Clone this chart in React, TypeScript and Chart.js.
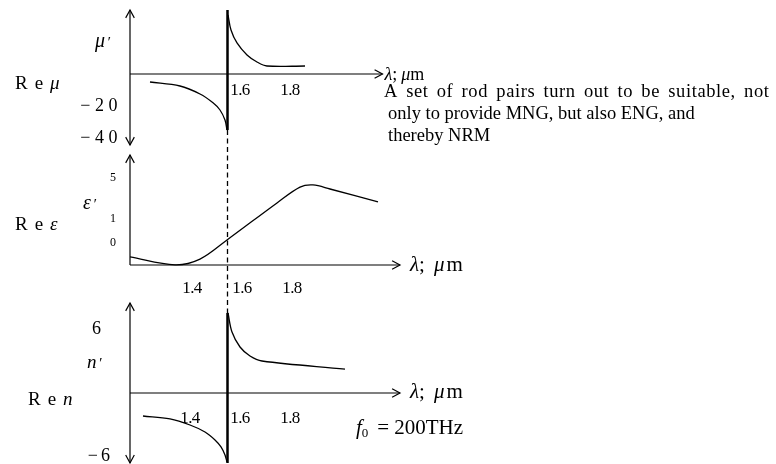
import { useEffect, useRef } from 'react';
import { Chart, registerables } from 'chart.js';

Chart.register(...registerables);

const FONT = "'Liberation Serif', 'Times New Roman', Times, serif";
const INK = '#000';

// Shared wavelength scale (μm) and the resonance wavelength
const lambdaRange = [1.16, 2.36];
const resonanceLambda = 1.55;

// Re μ panel
const muRange = [-47.5, 40];
const muAxisSpan = [-44.4, 40];
const muAxisEnd = 2.17;
const muNegLambda = [1.24, 1.36, 1.44, 1.492, 1.52, 1.54, 1.548];
const muNegValues = [-5, -7.5, -12.5, -18, -22.5, -28.8, -35];
const muPosLambda = [1.552, 1.564, 1.588, 1.628, 1.668, 1.708, 1.86];
const muPosValues = [36.9, 27.5, 19.4, 11.9, 7.5, 5, 5];
const muTicks = [-20, -40];
const muLambdaTicks = [1.6, 1.8];

// Re ε panel
const epsRange = [-1.958, 3.875];
const epsAxisSpan = [-0.917, 3.667];
const epsAxisEnd = 2.24;
const epsLambda = [1.16, 1.34, 1.44, 1.548, 1.748, 1.84, 1.892, 1.96, 2.152];
const epsValues = [-0.58, -0.91, -0.67, 0.125, 1.67, 2.33, 2.42, 2.25, 1.71];
const epsTickLabels = ['5', '1', '0'];
const epsTickPositions = [2.7, 1, 0];
const epsLambdaTicks = [1.4, 1.6, 1.8];

// Re n panel
const nRange = [-6.604, 9.717];
const nAxisSpan = [-6.6, 8.49];
const nAxisEnd = 2.24;
const nNegLambda = [1.212, 1.32, 1.4, 1.46, 1.5, 1.524, 1.54, 1.548];
const nNegValues = [-2.17, -2.45, -3.02, -3.68, -4.43, -5.09, -5.85, -6.51];
const nPosLambda = [1.552, 1.568, 1.6, 1.64, 1.688, 2.02];
const nPosValues = [7.55, 5.75, 4.34, 3.49, 3.02, 2.26];
const nTicks = [6, -6];
const nLambdaTicks = [1.4, 1.6, 1.8];

const noteLines = [
  'A set of rod pairs turn out to be suitable, not',
  'only to provide MNG, but also ENG, and',
  'thereby NRM',
];

const pts = (xs: number[], ys: number[]) => xs.map((x, i) => ({ x, y: ys[i] }));

type Run = { text: string; italic?: boolean; size?: number; dy?: number; spacing?: number };

function fontOf(r: Run, base: number) {
  return `${r.italic ? 'italic ' : ''}${r.size ?? base}px ${FONT}`;
}

function drawRuns(
  ctx: CanvasRenderingContext2D,
  runs: Run[],
  x: number,
  y: number,
  base: number,
  align: 'left' | 'right' | 'center' = 'left',
) {
  const c = ctx as any;
  const widths = runs.map((r) => {
    ctx.font = fontOf(r, base);
    c.letterSpacing = `${r.spacing ?? 0}px`;
    return ctx.measureText(r.text).width;
  });
  const total = widths.reduce((a, b) => a + b, 0);
  let cx = align === 'left' ? x : align === 'right' ? x - total : x - total / 2;
  runs.forEach((r, i) => {
    ctx.font = fontOf(r, base);
    c.letterSpacing = `${r.spacing ?? 0}px`;
    ctx.fillText(r.text, cx, y + (r.dy ?? 0));
    cx += widths[i];
  });
  c.letterSpacing = '0px';
}

function arrowHead(ctx: CanvasRenderingContext2D, tx: number, ty: number, fx: number, fy: number) {
  const a = Math.atan2(ty - fy, tx - fx);
  const len = 9;
  const w = 0.5;
  ctx.beginPath();
  ctx.moveTo(tx - len * Math.cos(a - w), ty - len * Math.sin(a - w));
  ctx.lineTo(tx, ty);
  ctx.lineTo(tx - len * Math.cos(a + w), ty - len * Math.sin(a + w));
  ctx.stroke();
}

function axisLine(
  ctx: CanvasRenderingContext2D,
  x1: number, y1: number, x2: number, y2: number,
  headAtStart: boolean, headAtEnd: boolean,
) {
  ctx.beginPath();
  ctx.moveTo(x1, y1);
  ctx.lineTo(x2, y2);
  ctx.stroke();
  if (headAtStart) arrowHead(ctx, x1, y1, x2, y2);
  if (headAtEnd) arrowHead(ctx, x2, y2, x1, y1);
}

const lambdaLabel = (gap: number, mu: number): Run[] => [
  { text: 'λ', italic: true },
  { text: ';', spacing: gap },
  { text: 'μ', italic: true, spacing: mu },
  { text: 'm' },
];

const reLabel = (sym: string): Run[] => [
  { text: 'Re', spacing: 7 },
  { text: sym, italic: true },
];

const primed = (sym: string): Run[] => [
  { text: sym, italic: true },
  { text: ' ′', italic: true, size: 15, spacing: -2 },
];

const schematicPlugin = {
  id: 'schematic',
  afterDatasetsDraw(chart: any) {
    const ctx: CanvasRenderingContext2D = chart.ctx;
    const x = chart.scales.x;
    const yMu = chart.scales.yMu;
    const yEps = chart.scales.yEps;
    const yN = chart.scales.yN;
    const px = (v: number) => x.getPixelForValue(v);
    const x0 = px(lambdaRange[0]);

    ctx.save();
    ctx.strokeStyle = INK;
    ctx.fillStyle = INK;
    ctx.lineWidth = 1.2;
    ctx.lineCap = 'butt';

    // dashed link through the ε panel at the resonance
    const xr = px(resonanceLambda);
    ctx.save();
    ctx.setLineDash([5, 3.5]);
    ctx.lineWidth = 1.3;
    ctx.beginPath();
    ctx.moveTo(xr, yMu.getPixelForValue(muNegValues[muNegValues.length - 1]));
    ctx.lineTo(xr, yN.getPixelForValue(nPosValues[0]));
    ctx.stroke();
    ctx.restore();

    // axes
    axisLine(ctx, x0, yMu.getPixelForValue(muAxisSpan[1]), x0, yMu.getPixelForValue(muAxisSpan[0]), true, true);
    axisLine(ctx, x0, yMu.getPixelForValue(0), px(muAxisEnd), yMu.getPixelForValue(0), false, true);

    const epsBase = yEps.getPixelForValue(epsAxisSpan[0]);
    axisLine(ctx, x0, epsBase, x0, yEps.getPixelForValue(epsAxisSpan[1]), false, true);
    axisLine(ctx, x0, epsBase, px(epsAxisEnd), epsBase, false, true);

    axisLine(ctx, x0, yN.getPixelForValue(nAxisSpan[1]), x0, yN.getPixelForValue(nAxisSpan[0]), true, true);
    axisLine(ctx, x0, yN.getPixelForValue(0), px(nAxisEnd), yN.getPixelForValue(0), false, true);

    ctx.textBaseline = 'alphabetic';

    // Re μ panel text
    drawRuns(ctx, primed('μ'), 95, 47, 20);
    drawRuns(ctx, reLabel('μ'), 15, 89, 19);
    ctx.textBaseline = 'middle';
    muTicks.forEach((v) =>
      drawRuns(ctx, [{ text: `−${Math.abs(v)}`, spacing: 4.5 }], 122, yMu.getPixelForValue(v), 18, 'right'),
    );
    ctx.textBaseline = 'alphabetic';
    muLambdaTicks.forEach((v) =>
      drawRuns(ctx, [{ text: v.toFixed(1), spacing: -0.6 }], px(v), 95, 17, 'center'),
    );
    drawRuns(ctx, lambdaLabel(4, 0), px(muAxisEnd) + 2, 80, 18);

    // Re ε panel text
    ctx.textBaseline = 'middle';
    epsTickLabels.forEach((t, i) =>
      drawRuns(ctx, [{ text: t }], 113, yEps.getPixelForValue(epsTickPositions[i]), 12, 'center'),
    );
    ctx.textBaseline = 'alphabetic';
    drawRuns(ctx, primed('ε'), 83, 209, 20);
    drawRuns(ctx, reLabel('ε'), 15, 230, 19);
    epsLambdaTicks.forEach((v) =>
      drawRuns(ctx, [{ text: v.toFixed(1), spacing: -0.6 }], px(v) + 2, 293, 17, 'center'),
    );
    drawRuns(ctx, lambdaLabel(9, 2), px(epsAxisEnd) + 10, 271, 21);

    // Re n panel text
    ctx.textBaseline = 'middle';
    nTicks.forEach((v) =>
      drawRuns(
        ctx,
        [{ text: v < 0 ? `−${Math.abs(v)}` : `${v}`, spacing: v < 0 ? 3 : 0 }],
        v < 0 ? 113 : 101,
        yN.getPixelForValue(v),
        18,
        'right',
      ),
    );
    ctx.textBaseline = 'alphabetic';
    drawRuns(ctx, primed('n'), 87, 368, 19);
    drawRuns(ctx, reLabel('n'), 28, 405, 19);
    nLambdaTicks.forEach((v) =>
      drawRuns(ctx, [{ text: v.toFixed(1), spacing: -0.6 }], px(v), 423, 17, 'center'),
    );
    drawRuns(ctx, lambdaLabel(9, 2), px(nAxisEnd) + 10, 398, 21);
    drawRuns(
      ctx,
      [
        { text: 'f', italic: true },
        { text: '0', size: 13, dy: 3, spacing: 9 },
        { text: '=', spacing: 5 },
        { text: '200THz' },
      ],
      356,
      434,
      21,
    );

    // note
    const c = ctx as any;
    ctx.font = `18.5px ${FONT}`;
    c.letterSpacing = '0.6px';
    c.wordSpacing = '3px';
    ctx.fillText(noteLines[0], 384, 97);
    c.letterSpacing = '0px';
    c.wordSpacing = '0px';
    ctx.fillText(noteLines[1], 388, 119);
    ctx.fillText(noteLines[2], 388, 141);

    ctx.restore();
  },
};

const curve = (data: { x: number; y: number }[], yAxisID: string) => ({
  data,
  yAxisID,
  xAxisID: 'x',
  borderColor: INK,
  borderWidth: 1.3,
  pointRadius: 0,
  fill: false,
  tension: 0.35,
});

const rule = (data: { x: number; y: number }[], yAxisID: string) => ({
  data,
  yAxisID,
  xAxisID: 'x',
  borderColor: INK,
  borderWidth: 2.5,
  pointRadius: 0,
  fill: false,
  tension: 0,
});

export default function App() {
  const canvasRef = useRef<HTMLCanvasElement | null>(null);

  useEffect(() => {
    const canvas = canvasRef.current;
    if (!canvas) return;
    const hidden = { display: false };
    const chart = new Chart(canvas, {
      type: 'line',
      data: {
        datasets: [
          curve(pts(muNegLambda, muNegValues), 'yMu'),
          curve(pts(muPosLambda, muPosValues), 'yMu'),
          rule(
            [
              { x: resonanceLambda, y: muAxisSpan[1] },
              { x: resonanceLambda, y: muNegValues[muNegValues.length - 1] },
            ],
            'yMu',
          ),
          curve(pts(epsLambda, epsValues), 'yEps'),
          curve(pts(nNegLambda, nNegValues), 'yN'),
          curve(pts(nPosLambda, nPosValues), 'yN'),
          rule(
            [
              { x: resonanceLambda, y: nPosValues[0] },
              { x: resonanceLambda, y: nRange[0] },
            ],
            'yN',
          ),
        ],
      },
      options: {
        responsive: false,
        maintainAspectRatio: false,
        devicePixelRatio: 1,
        animation: false,
        events: [],
        layout: { padding: { left: 130, right: 346, top: 10, bottom: 1 } },
        plugins: { legend: hidden, tooltip: { enabled: false }, title: hidden },
        scales: {
          x: { type: 'linear', min: lambdaRange[0], max: lambdaRange[1], ...hidden },
          yN: {
            type: 'linear', position: 'left', stack: 'panels', stackWeight: 173, weight: 1,
            min: nRange[0], max: nRange[1], ...hidden,
          },
          yEps: {
            type: 'linear', position: 'left', stack: 'panels', stackWeight: 140, weight: 2,
            min: epsRange[0], max: epsRange[1], ...hidden,
          },
          yMu: {
            type: 'linear', position: 'left', stack: 'panels', stackWeight: 140, weight: 3,
            min: muRange[0], max: muRange[1], ...hidden,
          },
        },
      } as any,
      plugins: [schematicPlugin],
    });
    return () => chart.destroy();
  }, []);

  return (
    <div style={{ position: 'absolute', left: 0, top: 0, width: 776, height: 464, background: '#fff' }}>
      <canvas ref={canvasRef} width={776} height={464} style={{ display: 'block' }} />
    </div>
  );
}
